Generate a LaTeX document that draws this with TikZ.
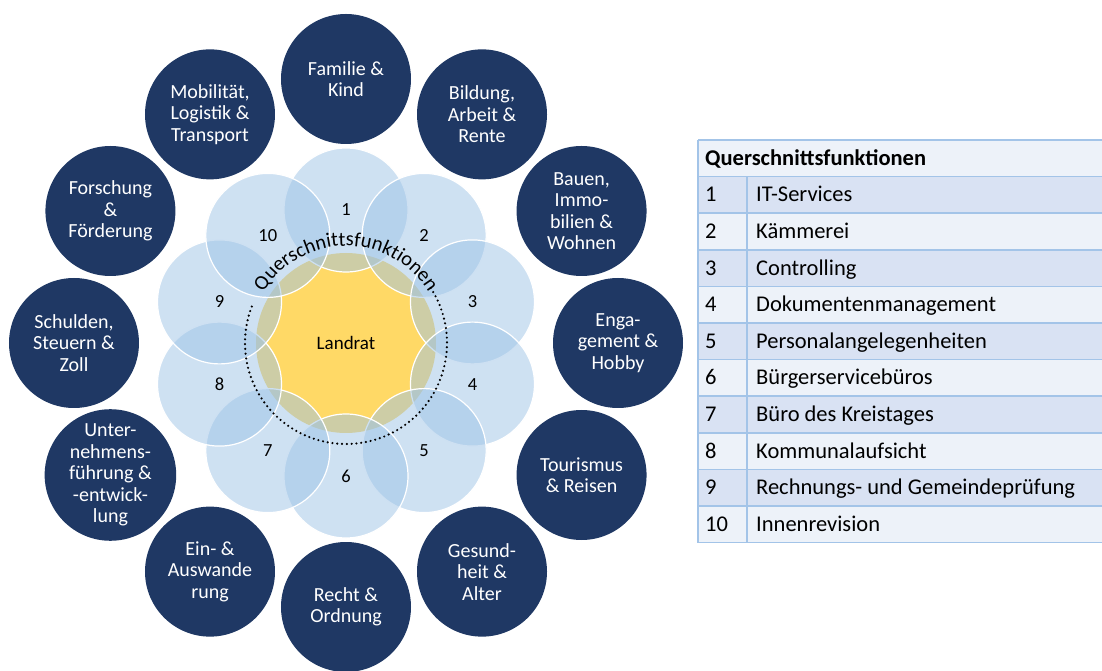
\documentclass[tikz,border=0pt]{standalone}
\usepackage{fontspec}
\setmainfont{Carlito}
\usetikzlibrary{decorations.text}

\definecolor{navy}{RGB}{31,56,100}
\definecolor{ringblue}{RGB}{157,195,230}
\definecolor{gold}{RGB}{255,217,102}
\definecolor{rowdark}{RGB}{217,226,243}
\definecolor{rowlight}{RGB}{237,242,249}
\definecolor{tabline}{RGB}{163,196,232}

\newcommand{\ringfont}{\fontsize{20.5}{20.5}\selectfont}

\begin{document}
\begin{tikzpicture}[x=1pt,y=1pt,
    thema/.style={circle,fill=navy,text=white,minimum size=130,inner sep=0pt,
      align=center,font=\fontsize{20}{21.5}\selectfont},
    querkreis/.style={circle,fill=ringblue,fill opacity=.5,text opacity=1,
      draw=white,line width=1.2,minimum size=124,inner sep=0pt,
      font=\fontsize{18.5}{18.5}\selectfont},
    dotwork/.style={line width=2.4,dash pattern=on 0pt off 4.8pt,line cap=round},
    tabtext/.style={anchor=base west,inner sep=0pt,font=\fontsize{22.5}{22.5}\selectfont}]
  \useasboundingbox (-346,-328) rectangle (756,343);

  % Landrat in der Mitte
  \node[circle,fill=gold,minimum size=180,font=\fontsize{19}{19}\selectfont] (landrat) at (0,0) {Landrat};

  % Querschnittsfunktionen 1-10
  \foreach \i in {1,...,10}
    \node[querkreis] (q\i) at ({90-36*(\i-1)}:133) {\i};

  \path[decorate,decoration={text along path,text align=center,
      text={|\ringfont|Querschnittsfunktionen}}]
    (155:97) arc[start angle=155,end angle=25,radius=97];
  \draw[dotwork] (33:101) arc[start angle=33,end angle=-202,radius=101];

  % Themen aussen
  \node[thema] (familie) at (90:272 and 264) {Familie \&\\Kind};
  \node[thema] (bildung) at (60:272 and 264) {Bildung,\\Arbeit \&\\Rente};
  \node[thema] (bauen) at (30:272 and 264) {Bauen,\\Immo-\\bilien \&\\Wohnen};
  \node[thema] (engagement) at (0:272 and 264) {Enga-\\gement \&\\Hobby};
  \node[thema] (tourismus) at (-30:272 and 264) {Tourismus\\\& Reisen};
  \node[thema] (gesundheit) at (-60:272 and 264) {Gesund-\\heit \&\\Alter};
  \node[thema] (recht) at (-90:272 and 264) {Recht \&\\Ordnung};
  \node[thema] (wanderung) at (-120:272 and 264) {Ein- \&\\Auswande\\rung};
  \node[thema] (unternehmen) at (-150:272 and 264) {Unter-\\nehmens-\\führung \&\\-entwick-\\lung};
  \node[thema] (schulden) at (180:272 and 264) {Schulden,\\Steuern \&\\Zoll};
  \node[thema] (forschung) at (150:272 and 264) {Forschung\\\&\\Förderung};
  \node[thema] (mobilitaet) at (120:272 and 264) {Mobilität,\\Logistik \&\\Transport};

  % Tabelle
  \fill[rowlight] (352,203) rectangle (760,166.4);
  \node[tabtext,font=\fontsize{22.5}{22.5}\selectfont\bfseries] (kopf) at (359,177.7) {Querschnittsfunktionen};
  \foreach \n/\f in {1/IT-Services,2/Kämmerei,3/Controlling,4/Dokumentenmanagement,
      5/Personalangelegenheiten,6/Bürgerservicebüros,7/Büro des Kreistages,
      8/Kommunalaufsicht,9/Rechnungs- und Gemeindeprüfung,10/Innenrevision}{
    \pgfmathsetmacro{\yo}{203-36.6*\n}
    \ifodd\n \fill[rowdark] (352,\yo) rectangle (760,\yo-36.6);
    \else \fill[rowlight] (352,\yo) rectangle (760,\yo-36.6); \fi
    \node[tabtext] (nr\n) at (359,\yo-25.3) {\n};
    \node[tabtext] (fkt\n) at (410,\yo-25.3) {\f};
  }
  \foreach \k in {0,...,11}
    \draw[tabline,line width=1.5] (352,{203-36.6*\k}) -- (760,{203-36.6*\k});
  \draw[tabline,line width=1.5] (352,203) -- (352,-199.6);
  \draw[tabline,line width=1.5] (401,166.4) -- (401,-199.6);
\end{tikzpicture}
\end{document}
